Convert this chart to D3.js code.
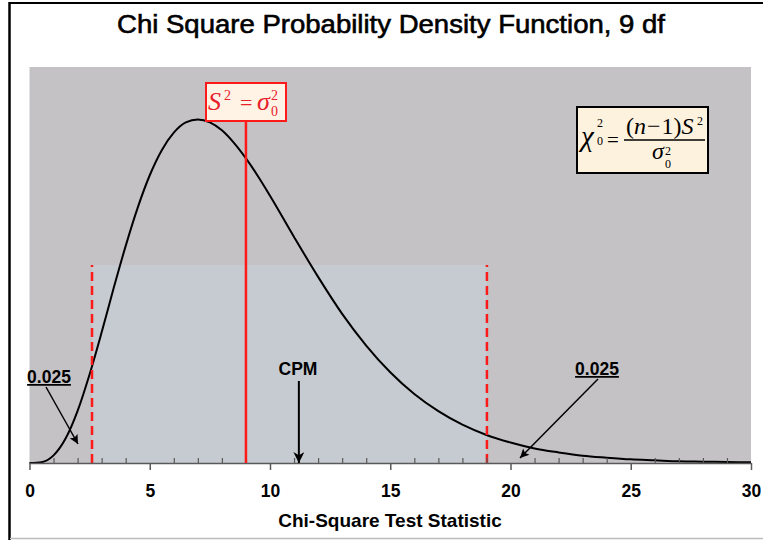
<!DOCTYPE html>
<html><head><meta charset="utf-8">
<script src="https://cdn.jsdelivr.net/npm/d3@7/dist/d3.min.js"></script>
<style>body{margin:0;background:#fff}svg{display:block}</style>
</head><body>
<svg id="c" width="763" height="540"></svg>
<script>
// Chi-square pdf (9 df)
const curveX = [0,0.5,1,1.5,2,2.5,3,3.5,4,4.5,5,5.5,6,6.5,7,7.5,8,8.5,9,9.5,10,11,12,13,14,15,16,17,18,19,20,21,22,23,24,25,26,27,28,29,30];
const curveY = [0,0.00026,0.0023,0.0074,0.0158,0.0269,0.0396,0.0530,0.0658,0.0774,0.0872,0.0948,0.1001,0.1032,0.1041,0.1032,0.1008,0.0970,0.0923,0.0869,0.0810,0.0685,0.0564,0.0452,0.0356,0.0275,0.0209,0.0157,0.0116,0.0085,0.0062,0.0044,0.0032,0.0022,0.0016,0.0011,0.0008,0.0005,0.0004,0.0003,0.0002];
const criticalValues = [2.6, 19.02];
const regionHeight = [0.06];
const nullValue = [9];
const cpmValue = [11.2];
const majorTicks = [0,5,10,15,20,25,30];
const minorTicks = [1,2,3,4,6,7,8,9,11,12,13,14,16,17,18,19,21,22,23,24,26,27,28,29];
const xDomain = [0,30];
const yDomain = [0,0.12];

const svg = d3.select('#c');
const x = d3.scaleLinear(xDomain, [29.5, 751]);
const y = d3.scaleLinear(yDomain, [463, 67]);

const defs = svg.append('defs');
defs.append('marker').attr('id','ah').attr('viewBox','0 0 10 10')
  .attr('refX',10).attr('refY',5).attr('markerWidth',10).attr('markerHeight',9)
  .attr('markerUnits','userSpaceOnUse').attr('orient','auto')
  .append('path').attr('d','M0,0 L10,5 L0,10 L2,5 Z').attr('fill','#000');
defs.append('marker').attr('id','ah2').attr('viewBox','0 0 10 10')
  .attr('refX',10).attr('refY',5).attr('markerWidth',11).attr('markerHeight',11)
  .attr('markerUnits','userSpaceOnUse').attr('orient','auto')
  .append('path').attr('d','M0,0 L10,5 L0,10 L3,5 Z').attr('fill','#000');

// frame
svg.append('line').attr('x1',9.5).attr('x2',763).attr('y1',3).attr('y2',3).attr('stroke','#000').attr('stroke-width',2);
svg.append('line').attr('x1',9.5).attr('x2',9.5).attr('y1',2).attr('y2',540).attr('stroke','#000').attr('stroke-width',2.5);
svg.append('line').attr('x1',10).attr('x2',763).attr('y1',538.5).attr('y2',538.5).attr('stroke','#bdbdbd').attr('stroke-width',1.5);

// title
svg.append('text').attr('x',391).attr('y',33).attr('text-anchor','middle')
  .attr('font-family','"Liberation Sans Narrow","Arial Narrow","Liberation Sans",sans-serif')
  .attr('font-size',26).attr('textLength',548).attr('lengthAdjust','spacingAndGlyphs')
  .attr('fill','#000').attr('stroke','#000').attr('stroke-width',0.6)
  .text('Chi Square Probability Density Function, 9 df');

// plot area
svg.append('rect').attr('x',x(0)).attr('y',y(yDomain[1])).attr('width',x(30)-x(0)).attr('height',y(0)-y(yDomain[1]))
  .attr('fill','#c4c2c5');
svg.append('rect').attr('x',x(criticalValues[0])).attr('y',y(regionHeight[0]))
  .attr('width',x(criticalValues[1])-x(criticalValues[0])).attr('height',y(0)-y(regionHeight[0]))
  .attr('fill','#c5cbd0');

// curve
const pts = curveX.map((v,i)=>[v,curveY[i]]);
svg.append('path').datum(pts)
  .attr('d', d3.line().x(d=>x(d[0])).y(d=>y(d[1])).curve(d3.curveMonotoneX))
  .attr('fill','none').attr('stroke','#000').attr('stroke-width',2);

// dashed critical lines
svg.selectAll('.crit').data(criticalValues).join('line')
  .attr('x1',d=>x(d)).attr('x2',d=>x(d)).attr('y1',y(0)).attr('y2',y(regionHeight[0]))
  .attr('stroke','#ff1a1a').attr('stroke-width',2.5).attr('stroke-dasharray','9,5');

// axis
const gx = svg.append('g').attr('transform',`translate(0,${y(0)})`);
gx.call(d3.axisBottom(x).tickValues(majorTicks).tickSizeInner(7).tickSizeOuter(0).tickPadding(15).tickFormat(d3.format('d')));
gx.select('.domain').attr('stroke','#595959').attr('stroke-width',1.5);
gx.selectAll('.tick line').attr('stroke','#595959').attr('stroke-width',1.5);
gx.selectAll('.tick text').attr('font-family','"Liberation Sans",Arial,sans-serif').attr('font-weight','bold')
  .attr('font-size',17.5).attr('fill','#000');
const gm = svg.append('g').attr('transform',`translate(0,${y(0)})`);
gm.call(d3.axisBottom(x).tickValues(minorTicks).tickSizeInner(-5).tickSizeOuter(0).tickFormat(''));
gm.select('.domain').remove();
gm.selectAll('.tick line').attr('stroke','#595959').attr('stroke-width',1.2);

svg.append('text').attr('x',390).attr('y',527).attr('text-anchor','middle')
  .attr('font-family','"Liberation Sans",Arial,sans-serif').attr('font-weight','bold').attr('font-size',19)
  .attr('fill','#000').text('Chi-Square Test Statistic');

// null line and box
svg.append('line').attr('x1',x(nullValue[0])).attr('x2',x(nullValue[0])).attr('y1',y(0)).attr('y2',121)
  .attr('stroke','#ff1a1a').attr('stroke-width',2.5);
svg.append('rect').attr('x',206).attr('y',83).attr('width',80).attr('height',38)
  .attr('fill','#fff3e6').attr('stroke','#ff1a1a').attr('stroke-width',2);
const ff = '"Liberation Serif","Times New Roman",serif';
const t = (tx,ty,s,size,opt={})=>{
  const e = svg.append('text').attr('x',tx).attr('y',ty).attr('font-family',ff).attr('font-size',size)
    .attr('fill',opt.fill||'#000').text(s);
  if(opt.italic) e.attr('font-style','italic');
  if(opt.anchor) e.attr('text-anchor',opt.anchor);
  return e;
};
const red = '#e8202a';
t(208,110,'S',26,{italic:true,fill:red});
t(224,100,'2',14,{fill:red});
t(240,110,'=',22,{fill:red});
t(257,110,'σ',26,{italic:true,fill:red});
t(271,100,'2',14,{fill:red});
t(271,116,'0',14,{fill:red});

// formula box
svg.append('rect').attr('x',577).attr('y',107).attr('width',131).attr('height',66)
  .attr('fill','#fdf2dd').attr('stroke','#000').attr('stroke-width',2);
t(581,146,'χ',29,{italic:true});
t(597,127,'2',12);
t(597,145,'0',12);
t(607,147,'=',21);
const num = svg.append('text').attr('x',626).attr('y',134).attr('font-family',ff).attr('font-size',24).attr('fill','#000');
num.append('tspan').text('(');
num.append('tspan').attr('font-style','italic').text('n');
num.append('tspan').attr('dx',1).text('−');
num.append('tspan').attr('dx',1).text('1)');
num.append('tspan').attr('font-style','italic').text('S');
t(697,125,'2',12);
svg.append('line').attr('x1',624).attr('x2',705).attr('y1',140).attr('y2',140).attr('stroke','#000').attr('stroke-width',1.3);
t(652,159,'σ',24,{italic:true});
t(665,155,'2',12);
t(665,168,'0',12);

// annotations
const lab = (tx,ty,s,underline)=>{
  const e = svg.append('text').attr('x',tx).attr('y',ty).attr('text-anchor','middle')
    .attr('font-family','"Liberation Sans",Arial,sans-serif').attr('font-weight','bold').attr('font-size',17.5)
    .attr('fill','#000').text(s);
  if(underline) e.attr('text-decoration','underline');
};
lab(49,383,'0.025',true);
lab(597,375,'0.025',true);
lab(298,375,'CPM',false);

svg.append('line').attr('x1',46).attr('y1',387).attr('x2',78).attr('y2',444)
  .attr('stroke','#000').attr('stroke-width',1.5).attr('marker-end','url(#ah)');
svg.append('line').attr('x1',598).attr('y1',379).attr('x2',520).attr('y2',458)
  .attr('stroke','#000').attr('stroke-width',1.5).attr('marker-end','url(#ah)');
svg.append('line').attr('x1',x(cpmValue[0])).attr('y1',381).attr('x2',x(cpmValue[0])).attr('y2',y(0))
  .attr('stroke','#000').attr('stroke-width',2).attr('marker-end','url(#ah2)');
</script>
</body></html>
